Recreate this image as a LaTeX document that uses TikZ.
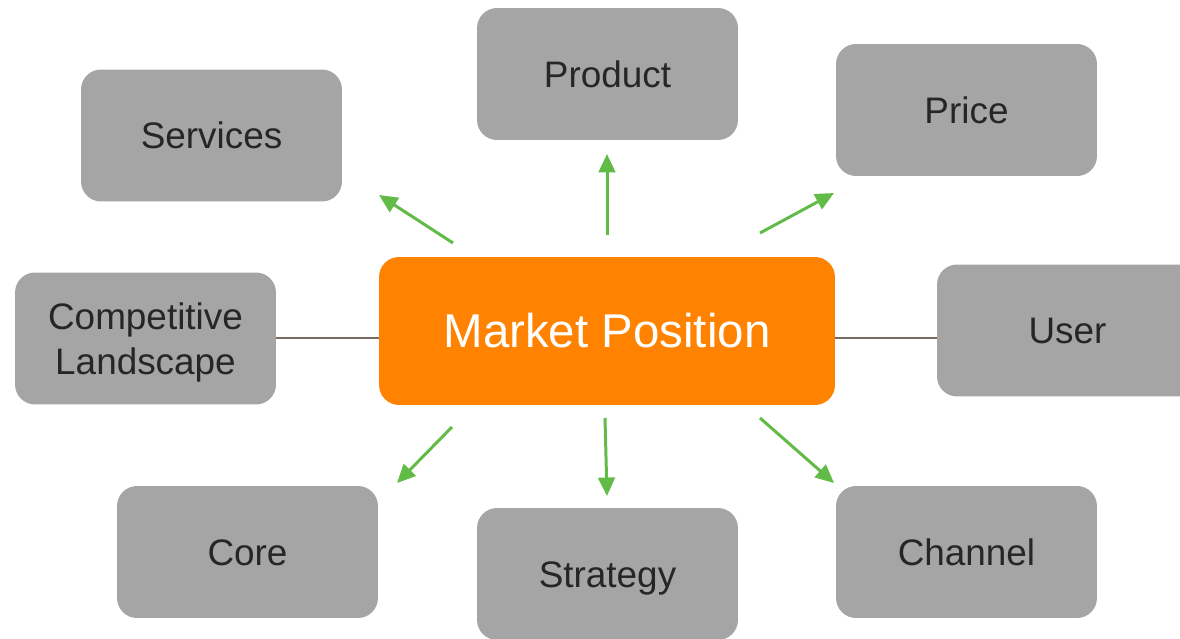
\documentclass[tikz,border=0pt]{standalone}
\usepackage{fontspec}
\setmainfont{Liberation Sans}
\usetikzlibrary{arrows.meta}
\usetikzlibrary{positioning}
\definecolor{boxgray}{RGB}{165,165,165}
\definecolor{mporange}{RGB}{255,130,0}
\definecolor{arrgreen}{RGB}{98,187,70}
\definecolor{linkbrown}{RGB}{118,108,98}
\definecolor{textdark}{RGB}{38,38,38}
\tikzset{
  topic/.style={rectangle, rounded corners=0.4cm, fill=boxgray, text=textdark,
    minimum width=5.22cm, minimum height=2.64cm, align=center,
    text height=15pt, text depth=0pt,
    font=\fontsize{21}{25.6}\selectfont},
  hub/.style={rectangle, rounded corners=0.4cm, fill=mporange, text=white,
    minimum width=9.12cm, minimum height=2.96cm,
    font=\fontsize{27}{32}\selectfont},
  arr/.style={-{Triangle[length=10.5pt,width=9.5pt]}, draw=arrgreen, line width=1.7pt},
  link/.style={draw=linkbrown, line width=1.1pt}
}

\begin{document}
\begin{tikzpicture}[x=0.02cm,y=-0.02cm]
  \useasboundingbox (0,0) rectangle (1180,639);
  \clip (0,0) rectangle (1180,639);
  \node[hub] (mp) at (607,331) {Market Position};
  \node[topic] (prod) at (607.5,74) {Product};
  \node[topic] (price) at (966.5,110) {Price};
  \node[topic] (serv) at (211.5,135.5) {Services};
  \node[topic, text height=40.6pt] (comp) at (145.5,338.5) {Competitive\\Landscape};
  \node[topic] (user) at (1067.5,330.5) {User};
  \node[topic] (core) at (247.5,552) {Core};
  \node[topic] (strat) at (607.5,574) {Strategy};
  \node[topic] (chan) at (966.5,552) {Channel};
  \coordinate (servA) at (453,243);
  \coordinate (servB) at (379,195);
  \coordinate (prodA) at (607,235);
  \coordinate (prodB) at (607,154);
  \coordinate (priceA) at (760,233);
  \coordinate (priceB) at (834,193);
  \coordinate (coreA) at (452,427);
  \coordinate (coreB) at (397,483);
  \coordinate (stratA) at (605,418);
  \coordinate (stratB) at (607,496);
  \coordinate (chanA) at (760,418);
  \coordinate (chanB) at (834,483);
  \draw[arr] (servA) -- (servB);
  \draw[arr] (prodA) -- (prodB);
  \draw[arr] (priceA) -- (priceB);
  \draw[arr] (coreA) -- (coreB);
  \draw[arr] (stratA) -- (stratB);
  \draw[arr] (chanA) -- (chanB);
  \draw[link] (comp.east |- 0,338) -- (mp.west |- 0,338);
  \draw[link] (mp.east |- 0,338) -- (user.west |- 0,338);
\end{tikzpicture}
\end{document}
